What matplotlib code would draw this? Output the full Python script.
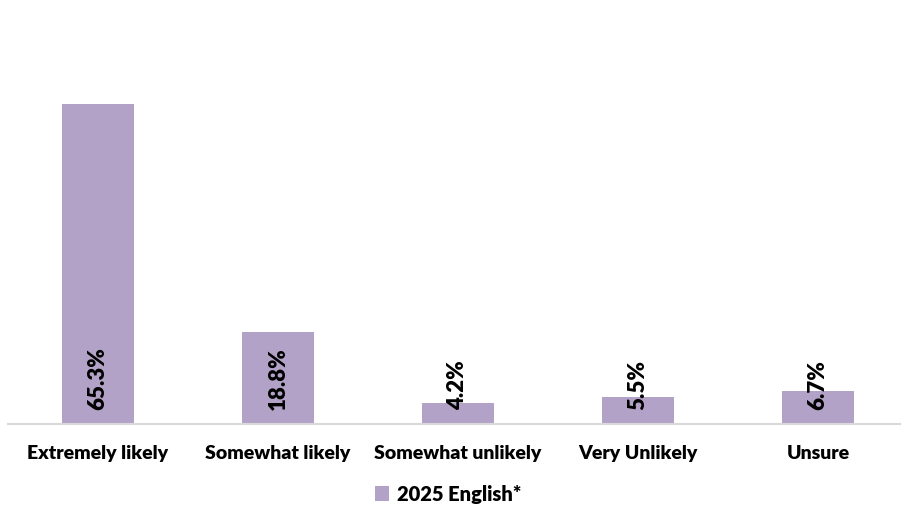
import matplotlib.pyplot as plt
import numpy as np

categories = ['Extremely likely', 'Somewhat likely', 'Somewhat unlikely', 'Very Unlikely', 'Unsure']
values = [65.3, 18.8, 4.2, 5.5, 6.7]
series_name = '2025 English*'

bar_color = '#b3a2c7'
font = 'Lato'
weight = 'heavy'

fig = plt.figure(figsize=(9.01, 5.08), dpi=100)
ax = fig.add_axes([8 / 901, 84 / 508, 900 / 901, 343 / 508])

x = np.arange(len(categories))
bars = ax.bar(x, values, width=0.4, color=bar_color, label=series_name, zorder=2)

for xi, v in zip(x, values):
    ax.annotate('{:.1f}%'.format(v), (xi, 0), xytext=(0, 10), textcoords='offset points',
                rotation=90, ha='center', va='bottom', fontsize=16,
                fontweight=weight, family=font, color='black', zorder=3)

ax.set_xlim(-0.5, len(categories) - 0.5)
ax.set_ylim(0, 70)
ax.set_xticks(x)
ax.set_xticklabels(categories, fontsize=14, fontweight=weight, family=font)
ax.tick_params(axis='x', length=0, pad=15)
ax.set_yticks([])
for s in ['top', 'right', 'left']:
    ax.spines[s].set_visible(False)
ax.spines['bottom'].set_color('#d9d9d9')
ax.spines['bottom'].set_linewidth(1.5)

leg = fig.legend(loc='center', bbox_to_anchor=(0.497, 1 - 494 / 508), frameon=False,
                 handlelength=0.7, handleheight=0.7, handletextpad=0.4,
                 prop={'family': font, 'weight': weight, 'size': 14.5})

fig.savefig('out.png', dpi=100)
